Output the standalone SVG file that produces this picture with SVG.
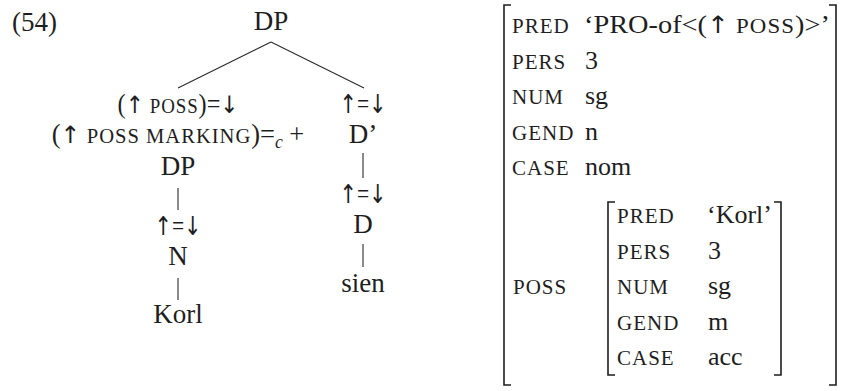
<svg xmlns="http://www.w3.org/2000/svg" width="842" height="391" viewBox="0 0 842 391">
  <style>
    text { font-family: "Liberation Serif", "Times New Roman", serif; font-size: 27px; fill: #1e1e1e; }
    .sc { font-size: 21px; letter-spacing: 1px; }
    .ar { font-family: "DejaVu Sans", "DejaVu Serif", sans-serif; font-size: 26px; }
    .ars { font-family: "DejaVu Sans", "DejaVu Serif", sans-serif; font-size: 24px; }
    .mid { text-anchor: middle; }
    .sub { font-style: italic; font-size: 18px; }
    .av { font-size: 26px; }
    .edge { stroke: #2a2a2a; stroke-width: 1.1; fill: none; }
    .br { stroke: #1e1e1e; stroke-width: 1.6; fill: none; }
  </style>
  <rect width="842" height="391" fill="#ffffff"/>

  <!-- example number -->
  <text id="exnum" x="12" y="31">(54)</text>

  <!-- tree branches -->
  <g id="connectors">
    <line class="edge" x1="271" y1="42" x2="178" y2="88"/>
    <line class="edge" x1="271" y1="42" x2="364" y2="88"/>
    <line class="edge" x1="178" y1="188" x2="178" y2="210"/>
    <line class="edge" x1="178" y1="278" x2="178" y2="300"/>
    <line class="edge" x1="363" y1="153" x2="363" y2="178"/>
    <line class="edge" x1="363" y1="244" x2="363" y2="267"/>
  </g>

  <!-- tree nodes -->
  <g id="dp-root">
    <text class="mid" x="271" y="30">DP</text>
  </g>
  <g id="dp-poss">
    <text class="mid" transform="translate(178,113) scale(0.9,1)">(<tspan class="ars">↑</tspan> <tspan class="sc">POSS</tspan>)=<tspan class="ars">↓</tspan></text>
    <text class="mid" transform="translate(178,143) scale(0.98,1)">(<tspan class="ars">↑</tspan> <tspan class="sc">POSS MARKING</tspan>)=<tspan class="sub" dy="5">c</tspan><tspan dy="-5"> +</tspan></text>
    <text class="mid" x="178" y="175">DP</text>
  </g>
  <g id="n">
    <text class="mid" transform="translate(178,235) scale(0.8,1)"><tspan class="ar">↑</tspan>=<tspan class="ar">↓</tspan></text>
    <text class="mid" x="178" y="265">N</text>
  </g>
  <g id="korl">
    <text class="mid" x="178" y="323">Korl</text>
  </g>
  <g id="dbar">
    <text class="mid" transform="translate(363,113) scale(0.8,1)"><tspan class="ar">↑</tspan>=<tspan class="ar">↓</tspan></text>
    <text class="mid" x="363" y="143">D’</text>
  </g>
  <g id="d">
    <text class="mid" transform="translate(363,203) scale(0.8,1)"><tspan class="ar">↑</tspan>=<tspan class="ar">↓</tspan></text>
    <text class="mid" x="363" y="233">D</text>
  </g>
  <g id="sien">
    <text class="mid" x="363" y="292">sien</text>
  </g>

  <!-- f-structure -->
  <g id="fstructure">
    <path class="br" d="M511,5 H504 V385 H511"/>
    <path class="br" d="M829,5 H836 V385 H829"/>
    <text class="sc" x="512" y="33">PRED</text>
    <text class="av" x="584" y="33" textLength="246" lengthAdjust="spacingAndGlyphs">‘PRO-of&lt;(<tspan class="ars">↑</tspan> <tspan class="sc">POSS</tspan>)&gt;’</text>
    <text class="sc" x="512" y="68.5">PERS</text>
    <text class="av" x="585" y="68.5">3</text>
    <text class="sc" x="512" y="104">NUM</text>
    <text class="av" x="585" y="104">sg</text>
    <text class="sc" x="512" y="139.5">GEND</text>
    <text class="av" x="585" y="139.5">n</text>
    <text class="sc" x="512" y="175">CASE</text>
    <text class="av" x="585" y="175">nom</text>
    <text class="sc" x="513" y="294">POSS</text>
  </g>
  <g id="fstructure-poss">
    <path class="br" d="M615,202 H608 V375 H615"/>
    <path class="br" d="M774,202 H781 V375 H774"/>
    <text class="sc" x="617" y="223">PRED</text>
    <text class="av" x="707" y="223">‘Korl’</text>
    <text class="sc" x="617" y="258.5">PERS</text>
    <text class="av" x="708" y="258.5">3</text>
    <text class="sc" x="617" y="294">NUM</text>
    <text class="av" x="708" y="294">sg</text>
    <text class="sc" x="617" y="329.5">GEND</text>
    <text class="av" x="708" y="329.5">m</text>
    <text class="sc" x="617" y="365">CASE</text>
    <text class="av" x="708" y="365">acc</text>
  </g>
</svg>
